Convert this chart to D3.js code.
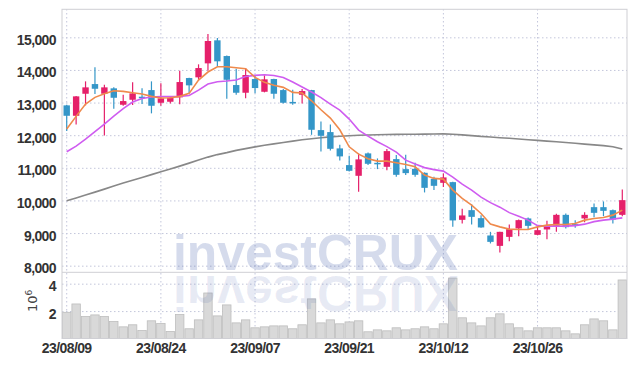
<!DOCTYPE html>
<html>
<head>
<meta charset="utf-8">
<style>
body { margin: 0; background: #fff; }
.axis text { font: bold 14px "Liberation Sans", sans-serif; letter-spacing: -0.6px; fill: #333; }
.axis .domain { display: none; }
.axis line { stroke: #c3c6db; stroke-dasharray: 1.5,2.5; }
</style>
</head>
<body>
<svg width="635" height="366"></svg>
<script src="https://d3js.org/d3.v7.min.js"></script>
<script>
// trading days shown on the chart
var dates = ["23/08/09","23/08/10","23/08/11","23/08/14","23/08/16","23/08/17","23/08/18","23/08/21","23/08/22","23/08/23",
  "23/08/24","23/08/25","23/08/28","23/08/29","23/08/30","23/08/31","23/09/01","23/09/04","23/09/05","23/09/06",
  "23/09/07","23/09/08","23/09/11","23/09/12","23/09/13","23/09/14","23/09/15","23/09/18","23/09/19","23/09/20",
  "23/09/21","23/09/22","23/09/25","23/09/26","23/09/27","23/10/04","23/10/05","23/10/06","23/10/10","23/10/11",
  "23/10/12","23/10/13","23/10/16","23/10/17","23/10/18","23/10/19","23/10/20","23/10/23","23/10/24","23/10/25",
  "23/10/26","23/10/27","23/10/30","23/10/31","23/11/01","23/11/02","23/11/03","23/11/06","23/11/07","23/11/08"];

var open = [12914,12595,13270,13567,13270,13436,12933,13086,13180,13383,
  12994,13025,13160,13752,13773,14202,14908,14426,13537,13301,
  13721,13331,13721,13383,13020,13239,13383,12156,12095,11595,
  11083,10755,11442,11153,11031,11267,10960,10969,10847,10663,
  10540,10561,9405,9702,9457,8926,8607,8883,9141,9448,
  8945,9110,9221,9558,9273,9448,9794,9794,9702,9558];
var high = [12930,13200,13650,14080,13546,13466,13239,13620,13436,13650,
  13589,13199,13975,13760,14172,15101,14979,14440,14037,14058,
  13822,13834,13730,13414,13393,13414,13390,12423,12331,11706,
  11368,11442,11473,11288,11574,11390,11399,11153,10860,10724,
  10828,10570,9742,9886,9549,9037,9040,9264,9417,9479,
  9212,9374,9589,9601,9396,9641,9908,9969,9723,10337];
var low = [12126,12331,12914,13261,11994,12810,12902,12923,12954,12669,
  12902,12975,12945,13291,13699,13975,14110,13117,13239,13129,
  13282,13313,13117,12975,12933,12975,12012,11503,11534,11227,
  10890,10264,11083,10960,10929,10724,10776,10724,10245,10316,
  10408,9190,9294,9264,9160,8681,8405,8751,8905,9120,
  8930,8813,9037,9141,9160,9334,9488,9518,9294,9518];
var close = [12595,13190,13466,13423,13466,13147,13046,13282,13160,12902,
  13129,13147,13629,13528,14058,14887,14264,13699,13301,13844,
  13445,13712,13270,12994,12994,13353,12166,11982,11583,11350,
  10908,11258,11123,11135,11512,10785,10837,10785,10386,10448,
  10706,9387,9540,9497,9172,8730,9037,9120,9396,9221,
  9089,9242,9558,9181,9221,9558,9620,9681,9417,10009];

// volume, millions of shares
var volume = [1.91,2.52,1.60,1.72,1.60,1.24,0.85,1.00,0.58,1.29,
  1.09,0.51,1.75,0.71,1.36,3.32,1.65,2.45,1.14,1.36,
  0.78,0.85,0.92,0.92,0.71,1.00,2.89,1.14,1.36,1.07,
  1.21,1.29,0.49,0.63,0.56,0.78,0.63,0.71,0.85,0.71,
  1.07,4.41,1.51,1.14,0.92,1.51,1.80,1.07,0.78,0.56,
  0.78,0.78,0.78,0.56,0.34,1.00,1.43,1.29,0.63,4.27];

// moving averages as drawn
var maShort = [12187,12577,12954,13160,13270,13362,13344,13301,13261,13190,
  13138,13147,13190,13282,13690,13936,14098,14098,14067,14037,
  13773,13620,13528,13466,13313,13291,13055,12779,12525,12166,
  11644,11420,11276,11206,11206,11153,11104,11031,10776,10675,
  10653,10316,10061,9856,9601,9279,9190,9120,9110,9110,
  9190,9242,9264,9264,9294,9396,9448,9479,9549,9702];
var maMid = [11491,11666,11880,12110,12340,12586,12816,13015,13123,13169,
  13184,13184,13190,13215,13383,13567,13638,13660,13690,13798,
  13834,13853,13828,13767,13629,13475,13322,13153,12954,12770,
  12494,12156,11972,11798,11650,11482,11236,11114,11006,10945,
  10899,10715,10500,10316,10101,9932,9794,9626,9518,9396,
  9227,9212,9212,9212,9227,9273,9350,9396,9426,9466];
var maLong = [9988,10077,10166,10255,10347,10439,10531,10617,10705,10791,
  10880,10966,11052,11144,11236,11328,11405,11466,11534,11589,
  11641,11690,11733,11776,11819,11862,11893,11923,11948,11966,
  11982,11997,12006,12015,12021,12025,12028,12031,12034,12037,
  12040,12028,12009,11988,11963,11945,11923,11905,11883,11862,
  11840,11819,11801,11776,11752,11727,11702,11681,11644,11574];

var priceTicks = [8000,9000,10000,11000,12000,13000,14000,15000];
var volumeTicks = [2,4];
var dateTicks = ["23/08/09","23/08/24","23/09/07","23/09/21","23/10/12","23/10/26"];

var svg = d3.select("svg"),
    plotLeft = 62, plotRight = 627, plotTop = 9.3, split = 272.3, plotBottom = 338.5;

var x = d3.scaleBand().domain(dates).range([plotLeft, plotRight]);
var bw = x.bandwidth();
var cx = function(i) { return x(dates[i]) + bw / 2; };
var y = d3.scaleLinear().domain([7797, 15859]).range([split, plotTop]);
var yv = d3.scaleLinear().domain([0, 4.83]).range([plotBottom, split]);

var upColor = "#e5206a", downColor = "#3496c8";

// grids + labels
svg.append("g")
    .attr("class", "axis")
    .attr("transform", "translate(" + plotLeft + ",0)")
    .call(d3.axisLeft(y).tickValues(priceTicks).tickSize(-(plotRight - plotLeft)).tickPadding(6).tickFormat(d3.format(",")))
  .selectAll("text").attr("dy", "0.5em");

svg.append("g")
    .attr("class", "axis")
    .attr("transform", "translate(" + plotLeft + ",0)")
    .call(d3.axisLeft(yv).tickValues(volumeTicks).tickSize(-(plotRight - plotLeft)).tickPadding(6).tickFormat(d3.format("d")))
  .selectAll("text").attr("dy", "0.5em");

svg.append("g")
    .attr("class", "axis")
    .attr("transform", "translate(0," + plotBottom + ")")
    .call(d3.axisBottom(x).tickValues(dateTicks).tickSize(-(plotBottom - plotTop)).tickPadding(5));

svg.append("text")
    .attr("transform", "translate(37,312) rotate(-90)")
    .style("font", "13px 'DejaVu Sans', sans-serif")
    .style("fill", "#444")
    .text("10")
  .append("tspan")
    .attr("dy", -5)
    .style("font-size", "9px")
    .text("6");

// volume bars
svg.append("g")
  .selectAll("rect")
  .data(volume)
  .enter().append("rect")
    .attr("x", function(d, i) { return x(dates[i]) + 0.5; })
    .attr("width", bw - 1)
    .attr("y", function(d) { return yv(d); })
    .attr("height", function(d) { return plotBottom - yv(d); })
    .style("fill", "#d9d9d9")
    .style("stroke", "#bdbdbd")
    .style("stroke-width", 0.8);

// frame
svg.append("rect")
    .attr("x", plotLeft).attr("y", plotTop)
    .attr("width", plotRight - plotLeft).attr("height", plotBottom - plotTop)
    .style("fill", "none").style("stroke", "#cfcfd4");
svg.append("line")
    .attr("x1", plotLeft).attr("x2", plotRight)
    .attr("y1", split).attr("y2", split)
    .style("stroke", "#cfcfd4");

var line = function(vals) {
  return d3.line().x(function(d, i) { return cx(i); }).y(function(d) { return y(d); })(vals);
};

svg.append("path").attr("d", line(maLong))
    .style("fill", "none").style("stroke", "#888").style("stroke-width", 1.6);

// candles
var candle = svg.append("g")
  .selectAll("g")
  .data(d3.range(dates.length))
  .enter().append("g")
    .style("fill", function(i) { return close[i] >= open[i] ? upColor : downColor; })
    .style("stroke", function(i) { return close[i] >= open[i] ? upColor : downColor; });

candle.append("line")
    .attr("x1", cx).attr("x2", cx)
    .attr("y1", function(i) { return y(high[i]); })
    .attr("y2", function(i) { return y(low[i]); })
    .style("stroke-width", 1.2);

candle.append("rect")
    .attr("x", function(i) { return cx(i) - 3.2; })
    .attr("width", 6.4)
    .attr("y", function(i) { return y(Math.max(open[i], close[i])); })
    .attr("height", function(i) { return Math.max(1.5, Math.abs(y(open[i]) - y(close[i]))); })
    .style("stroke", "none");

svg.append("path").attr("d", line(maMid))
    .style("fill", "none").style("stroke", "#cf5cf0").style("stroke-width", 1.6);
svg.append("path").attr("d", line(maShort))
    .style("fill", "none").style("stroke", "#ef8a4c").style("stroke-width", 1.6);

// watermark with reflection
var wm = svg.append("g").style("font", "bold 50px 'Liberation Sans', sans-serif");
wm.append("text")
    .attr("x", 173).attr("y", 270)
    .attr("textLength", 285).attr("lengthAdjust", "spacingAndGlyphs")
    .style("fill", "#3f5aa8").style("fill-opacity", 0.22)
    .text("investCRUX");
wm.append("text")
    .attr("transform", "translate(0,546) scale(1,-1)")
    .attr("x", 173).attr("y", 270)
    .attr("textLength", 285).attr("lengthAdjust", "spacingAndGlyphs")
    .style("fill", "#3f5aa8").style("fill-opacity", 0.12)
    .text("investCRUX");
</script>
</body>
</html>
